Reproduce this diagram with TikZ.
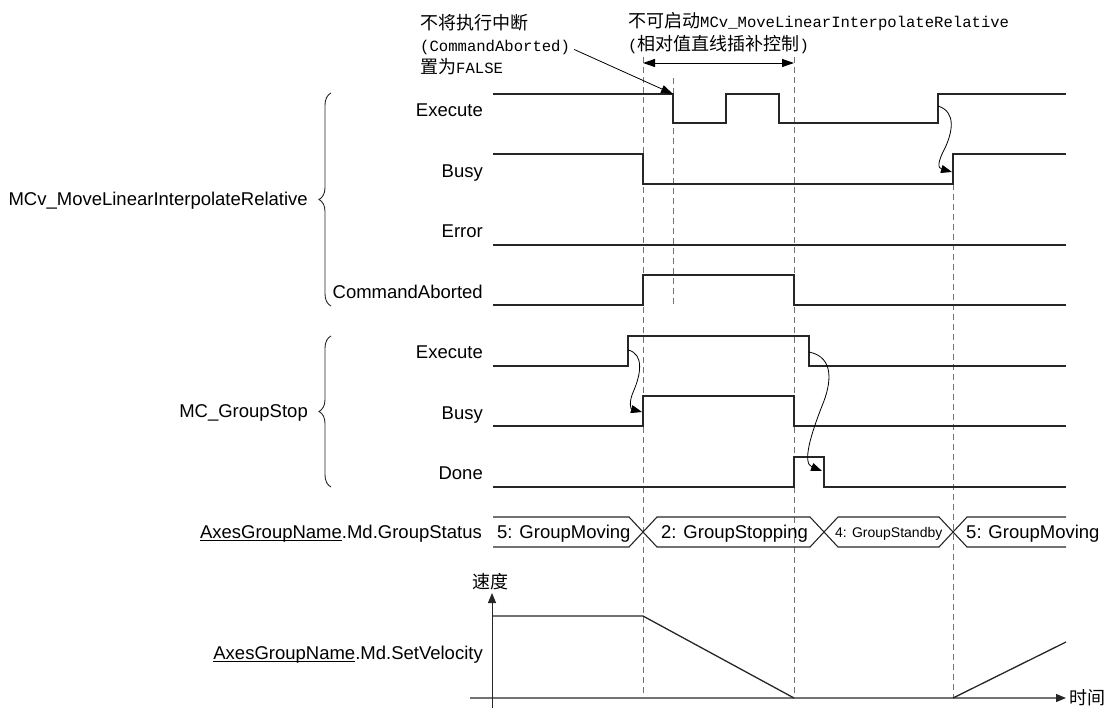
\documentclass[tikz,border=0pt]{standalone}
\usepackage{fontspec}
\setmainfont{Liberation Sans}
\newfontfamily\cjkfont{Noto Sans CJK SC}
\newfontfamily\latmono{Liberation Mono}
\usetikzlibrary{arrows.meta,decorations.pathreplacing}

% Chinese text and monospaced Latin text of the notes
\newcommand\zh[1]{{\cjkfont\fontsize{18}{20}\selectfont #1}}
\newcommand\lat[1]{{\latmono\fontsize{15.6}{18}\selectfont #1}}
% underline sitting just under the baseline
\newcommand\baseul[1]{\setbox0\hbox{#1}\rlap{\rule[-2.2pt]{\wd0}{0.8pt}}\box0}

\tikzset{
  sig/.style={draw=black!85, line width=1.3pt, line join=miter},
  guide/.style={draw=black!55, line width=0.9pt, dash pattern=on 6pt off 4pt},
  lbl/.style={anchor=base east, inner sep=0pt, font=\fontsize{18.5}{20}\selectfont},
  bustext/.style={anchor=base west, inner sep=0pt, font=\fontsize{18.5}{20}\selectfont},
  note/.style={anchor=base west, inner sep=0pt},
  cause/.style={draw=black, line width=0.8pt, -{Triangle[length=11pt,width=8pt]}},
  tip/.style={-{Triangle[length=12pt,width=8pt]}},
  bracefig/.style={draw=black!85, line width=0.9pt, decorate,
    decoration={brace, amplitude=12pt, aspect=0.5}},
}

\begin{document}
\begin{tikzpicture}[x=1pt,y=-1pt]
\useasboundingbox (0,0) rectangle (1107,709);

% ---- time markers
\draw[guide] (643,57) -- (643,698);
\draw[guide] (673,78) -- (673,305);
\draw[guide] (794,57) -- (794,698);
\draw[guide] (953,184) -- (953,698);

% ---- notes at the top
\node[note] (nA1) at (420,29.5) {\zh{不将执行中断}};
\node[note] (nA2) at (420,51.5) {\lat{(CommandAborted)}};
\node[note] (nA3) at (420,73.5) {\zh{置为}\lat{FALSE}};
\node[note] (nB1) at (628,27.5) {\zh{不可启动}\lat{MCv\_MoveLinearInterpolateRelative}};
\node[note] (nB2) at (628,50.5) {\lat{(}\zh{相对值直线插补控制}\lat{)}};

\coordinate (spanL) at (643,63);
\coordinate (spanR) at (794,63);
\draw[line width=1pt, {Triangle[length=12pt,width=8pt]}-{Triangle[length=12pt,width=8pt]}] (spanL) -- (spanR);

% ---- MCv_MoveLinearInterpolateRelative signals
\draw[sig] (493,94) -- (673,94) -- (673,123) -- (726,123) -- (726,94) -- (779,94)
  -- (779,123) -- (938,123) -- (938,94) -- (1066,94);
\draw[sig] (493,154) -- (643,154) -- (643,184) -- (953,184) -- (953,154) -- (1066,154);
\draw[sig] (493,245) -- (1066,245);
\draw[sig] (493,305) -- (643,305) -- (643,275) -- (794,275) -- (794,305) -- (1066,305);

% ---- MC_GroupStop signals
\draw[sig] (493,366) -- (628,366) -- (628,336) -- (809,336) -- (809,366) -- (1066,366);
\draw[sig] (493,426) -- (643,426) -- (643,396) -- (794,396) -- (794,426) -- (1066,426);
\draw[sig] (493,487) -- (794,487) -- (794,457) -- (824,457) -- (824,487) -- (1066,487);

% edge points used by the cause arrows
\coordinate (mExecFall) at (673,94);
\coordinate (mExecRise) at (938,106);
\coordinate (mBusyRise) at (952,172);
\coordinate (gExecRise) at (628,350);
\coordinate (gBusyRise) at (642,412);
\coordinate (gExecFall) at (809,352);
\coordinate (gDoneFall) at (822,471);

\draw[draw=black, line width=0.8pt, tip] ([xshift=4pt,yshift=-2pt]nA2.east) -- (mExecFall);

\draw[cause] (mExecRise) .. controls (957,112) and (952,133) .. (945,148)
  .. controls (937,163) and (938,168) .. (mBusyRise);
\draw[cause] (gExecRise) .. controls (645,354) and (640,376) .. (634,390)
  .. controls (628,403) and (631,409) .. (gBusyRise);
\draw[cause] (gExecFall) .. controls (834,357) and (832,382) .. (822,406)
  .. controls (811,434) and (802,463) .. (gDoneFall);

% ---- group status bus
\draw[sig, line width=1.1pt] (493,517) -- (629,517) -- (643,532) -- (629,547) -- (493,547);
\draw[sig, line width=1.1pt] (643,532) -- (657,517) -- (810,517) -- (824,532) -- (810,547) -- (657,547) -- cycle;
\draw[sig, line width=1.1pt] (824,532) -- (838,517) -- (939,517) -- (953,532) -- (939,547) -- (838,547) -- cycle;
\draw[sig, line width=1.1pt] (1066,517) -- (967,517) -- (953,532) -- (967,547) -- (1066,547);
\node[bustext] (s1) at (497,538.6) {5: GroupMoving};
\node[bustext] (s2) at (661,538.6) {2: GroupStopping};
\node[bustext, font=\fontsize{14}{16}\selectfont] (s3) at (835,537) {4: GroupStandby};
\node[bustext] (s4) at (966,538.6) {5: GroupMoving};

% ---- velocity plot
\draw[draw=black!55, line width=1.1pt, -{Triangle[length=10pt,width=8pt,color=black!85]}] (470,698) -- (1066,698);
\draw[draw=black!85, line width=1pt, -{Triangle[length=10pt,width=8pt]}] (492,708) -- (492,593);
\draw[sig] (492,616) -- (643,616) -- (794,698);
\draw[sig] (953,698) -- (1066,642);
\node[inner sep=0pt] (vlab) at (490,582) {\zh{速度}};
\node[anchor=west, inner sep=0pt] (tlab) at (1069,698) {\zh{时间}};

% ---- signal names
\node[lbl] (m1) at (483,116.6) {Execute};
\node[lbl] (m2) at (483,177.6) {Busy};
\node[lbl] (m3) at (483,237.6) {Error};
\node[lbl] (m4) at (483,298.6) {CommandAborted};
\node[lbl] (g1) at (483,358.6) {Execute};
\node[lbl] (g2) at (483,419.6) {Busy};
\node[lbl] (g3) at (483,479.6) {Done};
\node[lbl] (st) at (482,538.6) {\baseul{AxesGroupName}.Md.GroupStatus};
\node[lbl] (sv) at (483,659.6) {\baseul{AxesGroupName}.Md.SetVelocity};

% ---- function block braces
\draw[bracefig] (331,306) -- (331,93);
\draw[bracefig] (331,487) -- (331,336);
\node[lbl] (fbA) at (308,205.6) {MCv\_MoveLinearInterpolateRelative};
\node[lbl] (fbB) at (308,417.6) {MC\_GroupStop};
\end{tikzpicture}
\end{document}
